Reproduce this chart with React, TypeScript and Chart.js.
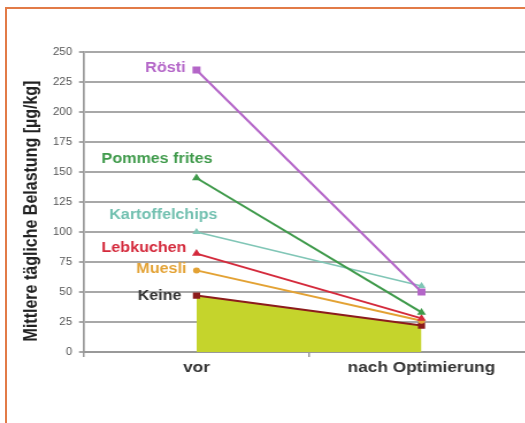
import React, { useEffect, useRef } from "react";
import { Chart, registerables } from "chart.js";

Chart.register(...registerables);

// ---- data ----
const categories = ["vor", "nach Optimierung"];
const seriesNames = ["Rösti", "Pommes frites", "Kartoffelchips", "Lebkuchen", "Muesli", "Keine"];
const roesti = [235, 50];
const pommesFrites = [145, 33];
const kartoffelchips = [100, 55];
const lebkuchen = [82, 28];
const muesli = [68, 26];
const keine = [47, 22];
const yMin = 0;
const yMax = 250;
const yStep = 25;
const yTitle = "Mittlere tägliche Belastung [µg/kg]";

// ---- styles ----
const S = 1.15; // horizontal stretch of the reference picture
const FONT = "'Liberation Sans', Arial, sans-serif";
const seriesValues = [roesti, pommesFrites, kartoffelchips, lebkuchen, muesli, keine];
const seriesStyles = [
  { line: "#b466c8", text: "#b466c8", point: "rect", radius: 3.5, width: 2, dx: -11, dy: -2 },
  { line: "#3f9a4b", text: "#3f9a4b", point: "triangle", radius: 2.5, width: 2, dx: 16, dy: -19 },
  { line: "#80c6b6", text: "#72c0b0", point: "triangle", radius: 2.5, width: 1.6, dx: 21, dy: -17 },
  { line: "#d42a3c", text: "#d42a3c", point: "triangle", radius: 2.5, width: 2, dx: -10, dy: -5 },
  { line: "#e3a234", text: "#e3a234", point: "circle", radius: 2, width: 2, dx: -10, dy: -1 },
  { line: "#8c1c1c", text: "#333333", point: "rect", radius: 3, width: 2, dx: -15, dy: 1 },
];
const keineFill = "#c5d42c";

const CANVAS_W = 487;
const CANVAS_H = 423;

const labelPlugin = {
  id: "seriesLabels",
  afterDatasetsDraw(chart: any) {
    const ctx = chart.ctx;
    ctx.save();
    ctx.font = `bold 14px ${FONT}`;
    ctx.textAlign = "right";
    ctx.textBaseline = "middle";
    chart.data.datasets.forEach((ds: any, i: number) => {
      const meta = chart.getDatasetMeta(i);
      const p = meta.data[0];
      const st = seriesStyles[i];
      ctx.fillStyle = st.text;
      ctx.fillText(seriesNames[i], p.x + st.dx / S, p.y + st.dy);
    });
    ctx.restore();
  },
  afterDraw(chart: any) {
    const ctx = chart.ctx;
    ctx.save();
    ctx.translate(32 / S, 211);
    ctx.rotate(-Math.PI / 2);
    ctx.font = `bold 16px ${FONT}`;
    ctx.fillStyle = "#222";
    ctx.textAlign = "center";
    ctx.textBaseline = "middle";
    ctx.fillText(yTitle, 0, 0);
    ctx.restore();
  },
};

export default function App() {
  const ref = useRef<HTMLCanvasElement | null>(null);

  useEffect(() => {
    if (!ref.current) return;
    const datasets = seriesValues.map((vals, i) => {
      const st = seriesStyles[i];
      const isKeine = i === seriesValues.length - 1;
      return {
        label: seriesNames[i],
        data: vals,
        borderColor: st.line,
        backgroundColor: isKeine ? keineFill : st.line,
        pointBackgroundColor: st.line,
        pointBorderColor: st.line,
        pointStyle: st.point,
        pointRadius: st.radius,
        borderWidth: st.width,
        tension: 0,
        fill: isKeine ? "origin" : false,
      };
    });
    const chart = new Chart(ref.current, {
      type: "line",
      data: { labels: categories, datasets },
      options: {
        animation: false,
        responsive: false,
        devicePixelRatio: 1,
        layout: { padding: { left: 0, top: 52, right: CANVAS_W - 534 / S, bottom: 31 } },
        plugins: {
          legend: { display: false },
          tooltip: { enabled: false },
          filler: { drawTime: "beforeDatasetsDraw" },
        },
        scales: {
          x: {
            offset: true,
            grid: { offset: true, drawOnChartArea: false, color: "#999", lineWidth: 1.5, tickLength: 5 },
            border: { color: "#999", width: 2 },
            ticks: {
              font: { family: FONT, size: 15, weight: "bold" },
              color: "#333",
              padding: 2,
              maxRotation: 0,
              autoSkip: false,
            },
            afterFit: (s: any) => {
              s.height = 40;
            },
          },
          y: {
            min: yMin,
            max: yMax,
            ticks: { stepSize: yStep, font: { family: FONT, size: 10 }, color: "#555", padding: 6 },
            grid: { color: "#a8a8a8", lineWidth: 2, tickLength: 5 / S },
            border: { color: "#999", width: 1.7 },
            afterFit: (s: any) => {
              s.width = 84 / S;
            },
          },
        },
      },
      plugins: [labelPlugin],
    } as any);
    return () => chart.destroy();
  }, []);

  return (
    <div
      style={{
        position: "fixed",
        left: 0,
        top: 0,
        width: 525,
        height: 423,
        overflow: "hidden",
        background: "#fff",
      }}
    >
      <div
        style={{
          position: "absolute",
          left: 0,
          top: 0,
          width: CANVAS_W,
          height: CANVAS_H,
          transform: `scaleX(${S})`,
          transformOrigin: "0 0",
        }}
      >
        <canvas ref={ref} width={CANVAS_W} height={CANVAS_H} style={{ display: "block" }} />
      </div>
      <div
        style={{
          position: "absolute",
          left: 5,
          top: 7,
          width: 700,
          height: 600,
          borderTop: "2px solid #e27b47",
          borderLeft: "2px solid #e27b47",
          pointerEvents: "none",
        }}
      />
    </div>
  );
}
